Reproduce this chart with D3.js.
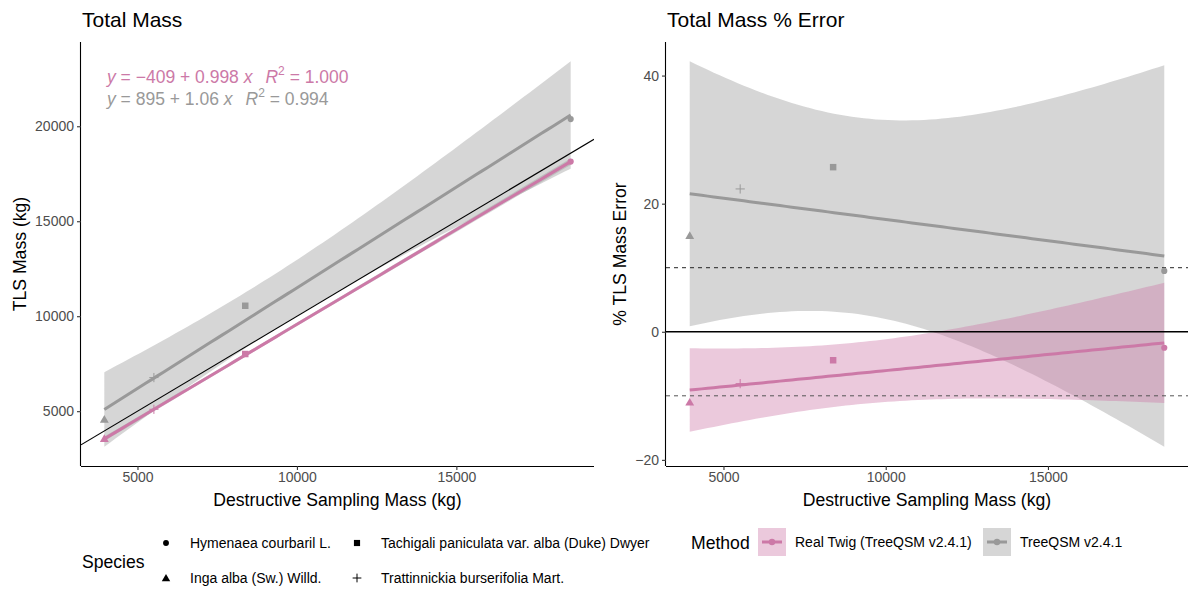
<!DOCTYPE html>
<html>
<head>
<meta charset="utf-8">
<script src="https://cdn.jsdelivr.net/npm/d3@7"></script>
<style>
  body { margin: 0; background: #fff; }
  text { font-family: "Liberation Sans", Arial, Helvetica, sans-serif; }
</style>
</head>
<body>
<svg id="chart" width="1189" height="590"></svg>
<script>
// ---- data (species in alphabetical order) ----
const species = ["Hymenaea courbaril L.", "Inga alba (Sw.) Willd.",
                 "Tachigali paniculata var. alba (Duke) Dwyer", "Trattinnickia burserifolia Mart."];
const speciesShapes = ["circle", "triangle", "square", "plus"];
const destructiveMass = [18585, 3960, 8380, 5515];        // kg
const tlsMassTwig = [18140, 3560, 8010, 5100];             // kg, Real Twig (TreeQSM v2.4.1)
const tlsMassQSM = [20380, 4570, 10550, 6770];             // kg, TreeQSM v2.4.1
const errorTwig = [-2.5, -11.0, -4.45, -8.1];              // % TLS mass error
const errorQSM = [9.5, 15.0, 25.7, 22.3];                  // % TLS mass error
const methods = ["Real Twig (TreeQSM v2.4.1)", "TreeQSM v2.4.1"];
const methodColors = ["#CC79A7", "#999999"];
const eqIntercept = [-409, 895];
const eqSlope = [0.998, 1.06];
const eqR2 = ["1.000", "0.994"];
const xTicks = [5000, 10000, 15000];
const massTicks = [5000, 10000, 15000, 20000];
const errorTicks = [-20, 0, 20, 40];
const errorRefLines = [10, -10];

const T_CRIT = 4.302653; // 97.5% t quantile, df = 2

const FS_TICK = 14, FS_AXIS = 17.6, FS_TITLE = 21, FS_LEG = 14;

const svg = d3.select("#chart");
const W = 1189, H = 590;
svg.append("rect").attr("width", W).attr("height", H).attr("fill", "#fff");

const panelL = { x0: 81, x1: 594, y0: 42, y1: 466, yTitleX: 20 };
const panelR = { x0: 666, x1: 1188, y0: 42, y1: 466, yTitleX: 620 };

// ---- linear model helpers ----
function lmFit(xs, ys) {
  const mx = d3.mean(xs), my = d3.mean(ys);
  const sxy = d3.sum(xs, (x, i) => (x - mx) * (ys[i] - my));
  const sxx = d3.sum(xs, x => (x - mx) ** 2);
  const b = sxy / sxx;
  return { a: my - b * mx, b };
}
function band(xs, ys, a, b) {
  const n = xs.length, mx = d3.mean(xs);
  const sxx = d3.sum(xs, x => (x - mx) ** 2);
  const sse = d3.sum(xs, (x, i) => (ys[i] - (a + b * x)) ** 2);
  const s = Math.sqrt(sse / (n - 2));
  const [lo, hi] = d3.extent(xs);
  return d3.range(80).map(k => {
    const x = lo + (hi - lo) * k / 79;
    const fit = a + b * x;
    const se = s * Math.sqrt(1 / n + (x - mx) ** 2 / sxx);
    return { x, fit, lo: fit - T_CRIT * se, hi: fit + T_CRIT * se };
  });
}
function expand([lo, hi]) { const d = (hi - lo) * 0.05; return [lo - d, hi + d]; }

// ---- shapes ----
function drawShape(g, shape, cx, cy, color, scale = 1) {
  if (shape === "plus") {
    const h = 4.6 * scale;
    g.append("path")
      .attr("d", `M${cx - h},${cy}H${cx + h}M${cx},${cy - h}V${cy + h}`)
      .attr("stroke", color).attr("stroke-width", 1).attr("fill", "none");
    return;
  }
  const type = { circle: d3.symbolCircle, triangle: d3.symbolTriangle, square: d3.symbolSquare }[shape];
  const size = { circle: 30, triangle: 34, square: 42 }[shape] * scale * scale;
  g.append("path")
    .attr("d", d3.symbol().type(type).size(size)())
    .attr("transform", `translate(${cx},${cy + (shape === "triangle" ? 0.8 : 0)})`)
    .attr("fill", color);
}

// ---- panel scaffolding ----
function panel(p, xDomain, yDomain, yTicks, yTitle, title, id) {
  const x = d3.scaleLinear().domain(xDomain).range([p.x0, p.x1]);
  const y = d3.scaleLinear().domain(yDomain).range([p.y1, p.y0]);
  svg.append("clipPath").attr("id", id).append("rect")
    .attr("x", p.x0).attr("y", p.y0).attr("width", p.x1 - p.x0).attr("height", p.y1 - p.y0);
  const g = svg.append("g").attr("clip-path", `url(#${id})`);

  const xAxis = svg.append("g").attr("transform", `translate(0,${p.y1})`)
    .call(d3.axisBottom(x).tickValues(xTicks).tickSize(4).tickPadding(2).tickFormat(d3.format("d")));
  const yAxis = svg.append("g").attr("transform", `translate(${p.x0},0)`)
    .call(d3.axisLeft(y).tickValues(yTicks).tickSize(4).tickPadding(3).tickFormat(d3.format("d")));
  [xAxis, yAxis].forEach(ax => {
    ax.select(".domain").attr("stroke", "#000").attr("stroke-width", 1.1);
    ax.selectAll(".tick line").attr("stroke", "#333").attr("stroke-width", 1.1);
    ax.selectAll(".tick text").attr("fill", "#4d4d4d").style("font-size", FS_TICK + "px");
  });
  // extend the axis lines to the panel corner
  xAxis.select(".domain").attr("d", `M${p.x0},0.5H${p.x1}`);
  yAxis.select(".domain").attr("d", `M-0.5,${p.y0}V${p.y1}`);

  svg.append("text").attr("x", (p.x0 + p.x1) / 2).attr("y", 506)
    .attr("text-anchor", "middle").style("font-size", FS_AXIS + "px").attr("fill", "#000")
    .text("Destructive Sampling Mass (kg)");
  svg.append("text")
    .attr("transform", `translate(${p.yTitleX + 6},${(p.y0 + p.y1) / 2}) rotate(-90)`)
    .attr("text-anchor", "middle").style("font-size", FS_AXIS + "px").attr("fill", "#000")
    .text(yTitle);
  svg.append("text").attr("x", p.x0 + 1).attr("y", 27)
    .style("font-size", FS_TITLE + "px").attr("fill", "#000").text(title);
  return { x, y, g };
}

const xDomain = expand(d3.extent(destructiveMass));

// ===== left panel: total mass =====
const massSeries = [tlsMassTwig, tlsMassQSM];
const massBands = massSeries.map((ys, m) => band(destructiveMass, ys, eqIntercept[m], eqSlope[m]));
const massDomain = expand(d3.extent([
  ...massSeries.flat(), ...massBands.flat().map(d => d.lo), ...massBands.flat().map(d => d.hi)]));
const L = panel(panelL, xDomain, massDomain, massTicks, "TLS Mass (kg)", "Total Mass", "clipL");

// confidence ribbons (grey)
massBands.forEach(bd => {
  L.g.append("path").datum(bd)
    .attr("d", d3.area().x(d => L.x(d.x)).y0(d => L.y(d.lo)).y1(d => L.y(d.hi)))
    .attr("fill", "#999999").attr("fill-opacity", 0.4);
});
// 1:1 reference line
L.g.append("line")
  .attr("x1", L.x(xDomain[0])).attr("y1", L.y(xDomain[0]))
  .attr("x2", L.x(xDomain[1])).attr("y2", L.y(xDomain[1]))
  .attr("stroke", "#000").attr("stroke-width", 1.1);
// points + fits, TreeQSM drawn first
[1, 0].forEach(m => {
  massSeries[m].forEach((v, i) => drawShape(L.g, speciesShapes[i], L.x(destructiveMass[i]), L.y(v), methodColors[m]));
  L.g.append("path").datum(massBands[m])
    .attr("d", d3.line().x(d => L.x(d.x)).y(d => L.y(d.fit)))
    .attr("stroke", methodColors[m]).attr("stroke-width", 3).attr("fill", "none");
});

// regression equations
function fmtNum(v) { return v < 0 ? "\u2212" + Math.abs(v) : String(v); }
[0, 1].forEach(m => {
  const t = svg.append("text").attr("x", 107).attr("y", 83 + m * 22)
    .style("font-size", "17.5px").attr("fill", methodColors[m]);
  t.append("tspan").style("font-style", "italic").text("y");
  t.append("tspan").text(" = " + fmtNum(eqIntercept[m]) + " + " + eqSlope[m] + " ");
  t.append("tspan").style("font-style", "italic").text("x");
  t.append("tspan").style("font-style", "italic").attr("dx", 13).text("R");
  t.append("tspan").attr("dy", -8).style("font-size", "12px").text("2");
  t.append("tspan").attr("dy", 8).text(" = " + eqR2[m]);
});

// ===== right panel: % error =====
const errSeries = [errorTwig, errorQSM];
const errBands = errSeries.map(ys => { const f = lmFit(destructiveMass, ys); return band(destructiveMass, ys, f.a, f.b); });
const errDomain = expand(d3.extent([
  ...errSeries.flat(), ...errBands.flat().map(d => d.lo), ...errBands.flat().map(d => d.hi)]));
const R = panel(panelR, xDomain, errDomain, errorTicks, "% TLS Mass Error", "Total Mass % Error", "clipR");

[1, 0].forEach(m => {
  R.g.append("path").datum(errBands[m])
    .attr("d", d3.area().x(d => R.x(d.x)).y0(d => R.y(d.lo)).y1(d => R.y(d.hi)))
    .attr("fill", methodColors[m]).attr("fill-opacity", 0.4);
});
errorRefLines.forEach((v, k) => {
  R.g.append("line").attr("x1", panelR.x0).attr("x2", panelR.x1)
    .attr("y1", R.y(v)).attr("y2", R.y(v))
    .attr("stroke", k === 0 ? "#222" : "#555").attr("stroke-width", 1).attr("stroke-dasharray", "4,4");
});
R.g.append("line").attr("x1", panelR.x0).attr("x2", panelR.x1)
  .attr("y1", R.y(0)).attr("y2", R.y(0)).attr("stroke", "#000").attr("stroke-width", 1.3);
[1, 0].forEach(m => {
  errSeries[m].forEach((v, i) => drawShape(R.g, speciesShapes[i], R.x(destructiveMass[i]), R.y(v), methodColors[m]));
  R.g.append("path").datum(errBands[m])
    .attr("d", d3.line().x(d => R.x(d.x)).y(d => R.y(d.fit)))
    .attr("stroke", methodColors[m]).attr("stroke-width", 3).attr("fill", "none");
});

// ===== legends =====
const leg = svg.append("g");
leg.append("text").attr("x", 82).attr("y", 568).style("font-size", FS_AXIS + "px").attr("fill", "#000").text("Species");
species.forEach((s, i) => {
  const col = Math.floor(i / 2), row = i % 2;
  const cx = 166 + col * 191, cy = 543 + row * 35;
  drawShape(leg, speciesShapes[i], cx, cy, "#000", 0.95);
  leg.append("text").attr("x", cx + 24).attr("y", cy + 5).style("font-size", FS_LEG + "px").attr("fill", "#000").text(s);
});

leg.append("text").attr("x", 691).attr("y", 549).style("font-size", FS_AXIS + "px").attr("fill", "#000").text("Method");
const keyX = [758, 983];
methods.forEach((mname, m) => {
  const kx = keyX[m], ky = 528;
  leg.append("rect").attr("x", kx).attr("y", ky).attr("width", 28).attr("height", 28)
    .attr("fill", methodColors[m]).attr("fill-opacity", 0.4);
  leg.append("line").attr("x1", kx + 4).attr("x2", kx + 24).attr("y1", ky + 14).attr("y2", ky + 14)
    .attr("stroke", methodColors[m]).attr("stroke-width", 3);
  leg.append("circle").attr("cx", kx + 14).attr("cy", ky + 14).attr("r", 3.2).attr("fill", methodColors[m]);
  leg.append("text").attr("x", kx + 37).attr("y", ky + 19).style("font-size", FS_LEG + "px").attr("fill", "#000").text(mname);
});
</script>
</body>
</html>
